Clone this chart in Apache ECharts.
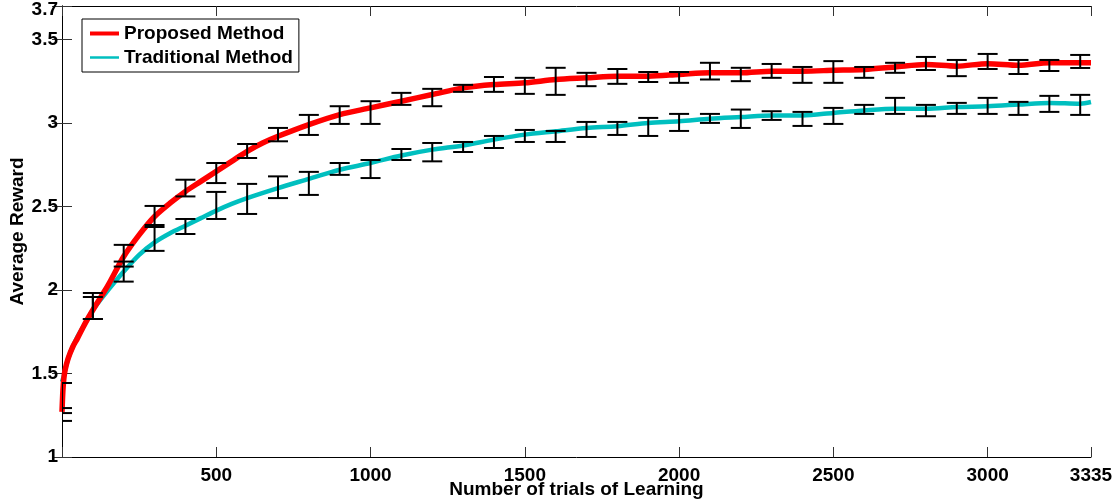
<!DOCTYPE html>
<html>
<head>
<meta charset="utf-8">
<script src="https://cdn.jsdelivr.net/npm/echarts@6/dist/echarts.min.js"></script>
<style>
html,body{margin:0;padding:0;background:#fff;}
#chart{width:1118px;height:504px;}
</style>
</head>
<body>
<div id="chart"></div>
<script>
// ---- Data ----
var proposedX = [0, 3, 6, 10, 20, 35, 50, 75, 100, 150, 200, 250, 300, 350, 400, 450, 500, 550, 600, 650, 700, 800, 900, 1000, 1100, 1200, 1300, 1400, 1500, 1600, 1700, 1800, 1900, 2000, 2100, 2200, 2300, 2400, 2500, 2600, 2700, 2800, 2900, 3000, 3100, 3200, 3300, 3335];
var proposedY = [1.27, 1.40, 1.47, 1.52, 1.59, 1.66, 1.71, 1.80, 1.88, 2.03, 2.20, 2.33, 2.44, 2.52, 2.59, 2.65, 2.71, 2.77, 2.83, 2.88, 2.92, 2.99, 3.05, 3.09, 3.13, 3.17, 3.21, 3.23, 3.24, 3.26, 3.27, 3.28, 3.28, 3.29, 3.30, 3.30, 3.31, 3.31, 3.315, 3.32, 3.335, 3.35, 3.34, 3.355, 3.345, 3.36, 3.36, 3.36];

var traditionalX = [0, 5, 10, 20, 35, 50, 75, 100, 150, 200, 250, 300, 350, 400, 450, 500, 550, 600, 700, 800, 900, 1000, 1100, 1200, 1300, 1400, 1500, 1600, 1700, 1800, 1900, 2000, 2100, 2200, 2300, 2400, 2500, 2600, 2700, 2800, 2900, 3000, 3100, 3200, 3300, 3335];
var traditionalY = [1.45, 1.48, 1.52, 1.59, 1.66, 1.72, 1.80, 1.88, 2.00, 2.11, 2.21, 2.285, 2.34, 2.385, 2.43, 2.475, 2.515, 2.55, 2.61, 2.665, 2.72, 2.76, 2.805, 2.84, 2.865, 2.90, 2.93, 2.95, 2.97, 2.98, 3.00, 3.01, 3.025, 3.035, 3.045, 3.045, 3.06, 3.075, 3.085, 3.085, 3.095, 3.10, 3.11, 3.12, 3.115, 3.125];

var errX = [0, 100, 200, 300, 400, 500, 600, 700, 800, 900, 1000, 1100, 1200, 1300, 1400, 1500, 1600, 1700, 1800, 1900, 2000, 2100, 2200, 2300, 2400, 2500, 2600, 2700, 2800, 2900, 3000, 3100, 3200, 3300];
var proposedLow  = [1.216, 1.826, 2.14, 2.377, 2.56, 2.64, 2.79, 2.89, 2.928, 2.994, 2.994, 3.108, 3.10, 3.186, 3.186, 3.174, 3.168, 3.22, 3.234, 3.245, 3.24, 3.26, 3.25, 3.27, 3.24, 3.24, 3.27, 3.30, 3.317, 3.28, 3.323, 3.293, 3.311, 3.329];
var proposedHigh = [1.293, 1.982, 2.27, 2.503, 2.66, 2.76, 2.874, 2.97, 3.048, 3.10, 3.13, 3.18, 3.204, 3.228, 3.275, 3.27, 3.33, 3.30, 3.323, 3.305, 3.305, 3.36, 3.33, 3.353, 3.335, 3.37, 3.335, 3.36, 3.395, 3.377, 3.413, 3.377, 3.377, 3.407];
var traditionalLow  = [1.263, 1.826, 2.05, 2.234, 2.335, 2.425, 2.455, 2.55, 2.569, 2.689, 2.67, 2.778, 2.77, 2.826, 2.85, 2.886, 2.886, 2.916, 2.928, 2.922, 2.952, 3.0, 2.97, 3.018, 2.982, 2.994, 3.054, 3.054, 3.04, 3.054, 3.054, 3.048, 3.066, 3.048];
var traditionalHigh = [1.443, 1.958, 2.17, 2.389, 2.425, 2.587, 2.635, 2.68, 2.707, 2.76, 2.778, 2.844, 2.88, 2.886, 2.922, 2.958, 2.952, 3.006, 3.006, 3.03, 3.054, 3.054, 3.08, 3.07, 3.066, 3.09, 3.108, 3.15, 3.108, 3.12, 3.15, 3.126, 3.162, 3.168];

var xTicksMax = 3335;
var yTicks = [1, 1.5, 2, 2.5, 3, 3.5, 3.7];

// ---- Build ----
function pairs(xs, ys){ return xs.map(function(x,i){ return [x, ys[i]]; }); }
function triples(xs, lo, hi){ return xs.map(function(x,i){ return [x, lo[i], hi[i]]; }); }

var FONT = '"Liberation Sans", Arial, Helvetica, sans-serif';
var RED = '#ff0000', CYAN = '#00bfbf';

function errRender(params, api){
  var x = api.value(0), lo = api.value(1), hi = api.value(2);
  var pt = api.coord([x, hi]), pb = api.coord([x, lo]);
  var w = 10;
  var st = {stroke:'#000', lineWidth:2};
  return {type:'group', children:[
    {type:'line', shape:{x1:pt[0], y1:pt[1], x2:pb[0], y2:pb[1]}, style:st},
    {type:'line', shape:{x1:pt[0]-w, y1:pt[1], x2:pt[0]+w, y2:pt[1]}, style:st},
    {type:'line', shape:{x1:pb[0]-w, y1:pb[1], x2:pb[0]+w, y2:pb[1]}, style:st}
  ]};
}

var tickStyle = {show:true, inside:true, length:10, lineStyle:{color:'#333', width:1}};
var axisLineStyle = {show:true, lineStyle:{color:'#000', width:1}};
var labelStyle = {fontFamily:FONT, fontWeight:'bold', fontSize:19, color:'#000'};
var hiddenSym = {color:'rgba(0,0,0,0)', borderWidth:0, opacity:0};
var yMax = yTicks[yTicks.length-1];

var chart = echarts.init(document.getElementById('chart'), null, {renderer:'canvas'});
chart.setOption({
  animation:false,
  backgroundColor:'#fff',
  grid:{left:62, right:27, top:6, bottom:47, containLabel:false, outerBoundsMode:'none'},
  legend:{
    orient:'vertical', left:82, top:19,
    padding:[5,6,5,6], itemGap:5, itemWidth:29, itemHeight:14,
    backgroundColor:'#fff', borderColor:'#000', borderWidth:1, borderRadius:0,
    textStyle:{fontFamily:FONT, fontWeight:'bold', fontSize:19, color:'#000', lineHeight:19},
    data:[
      {name:'Proposed Method', lineStyle:{width:4, color:RED}, itemStyle:hiddenSym},
      {name:'Traditional Method', lineStyle:{width:2.5, color:CYAN}, itemStyle:hiddenSym}
    ]
  },
  xAxis:[
    {type:'value', min:0, max:xTicksMax, interval:500, position:'bottom',
     name:'Number of trials of Learning', nameLocation:'middle', nameGap:23, nameMoveOverlap:false,
     nameTextStyle:labelStyle,
     axisLine:axisLineStyle, axisTick:tickStyle, splitLine:{show:false},
     axisLabel:Object.assign({margin:9, formatter:function(v){ return v===0 ? '' : String(v); }}, labelStyle)},
    {type:'value', min:0, max:xTicksMax, interval:500, position:'top',
     axisLine:axisLineStyle, axisTick:tickStyle, splitLine:{show:false}, axisLabel:{show:false}}
  ],
  yAxis:[
    {type:'value', min:yTicks[0], max:yMax, interval:0.5, position:'left',
     name:'Average Reward', nameLocation:'middle', nameGap:35, nameRotate:90, nameMoveOverlap:false,
     nameTextStyle:labelStyle,
     axisLine:axisLineStyle, axisTick:tickStyle, splitLine:{show:false},
     axisLabel:Object.assign({margin:4,
       formatter:function(v){ return Math.abs(v - yMax) < 1e-9 ? '{t|' + v + '}' : String(v); },
       rich:{t:{fontFamily:FONT, fontWeight:'bold', fontSize:19, color:'#000', padding:[7,0,0,0]}}
     }, labelStyle)},
    {type:'value', min:yTicks[0], max:yMax, interval:0.5, position:'right',
     axisLine:axisLineStyle, axisTick:tickStyle, splitLine:{show:false}, axisLabel:{show:false}}
  ],
  series:[
    {name:'Traditional Method', type:'line', data:pairs(traditionalX, traditionalY),
     showSymbol:false, symbol:'none', smooth:0.3, clip:true, z:2,
     lineStyle:{color:CYAN, width:4.5}, itemStyle:{color:CYAN}},
    {name:'Proposed Method', type:'line', data:pairs(proposedX, proposedY),
     showSymbol:false, symbol:'none', smooth:0.3, clip:true, z:3,
     lineStyle:{color:RED, width:5.5}, itemStyle:{color:RED}},
    {name:'errP', type:'custom', data:triples(errX, proposedLow, proposedHigh),
     renderItem:errRender, clip:true, z:5, encode:{x:0, y:[1,2]}, silent:true},
    {name:'errT', type:'custom', data:triples(errX, traditionalLow, traditionalHigh),
     renderItem:errRender, clip:true, z:5, encode:{x:0, y:[1,2]}, silent:true}
  ]
});
</script>
</body>
</html>
